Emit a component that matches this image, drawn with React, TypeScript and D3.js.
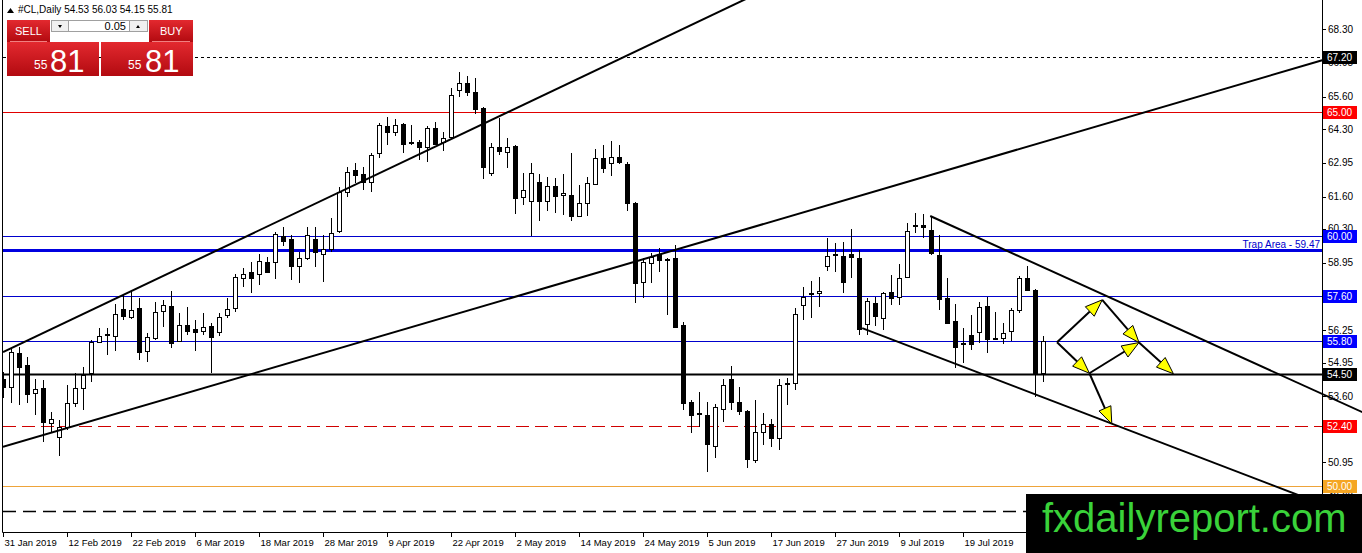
import React, { useEffect, useRef } from "react";
import * as d3 from "d3";

const W = 1362;
const H = 553;

// one label every 8 daily bars
const dateLabels = [
  "31 Jan 2019", "12 Feb 2019", "22 Feb 2019", "6 Mar 2019", "18 Mar 2019",
  "28 Mar 2019", "9 Apr 2019", "22 Apr 2019", "2 May 2019", "14 May 2019",
  "24 May 2019", "5 Jun 2019", "17 Jun 2019", "27 Jun 2019", "9 Jul 2019",
  "19 Jul 2019", "31 Jul 2019"
];

const priceTicks = [
  68.3, 66.95, 65.6, 64.3, 62.95, 61.6, 60.3, 58.95, 57.6, 56.25, 54.95,
  53.6, 52.25, 50.95, 49.6
];

const opens = [
  54.29, 53.97, 55.33, 54.85, 53.73, 53.93, 52.53, 51.97, 52.37, 53.33,
  53.93, 54.53, 55.77, 56.05, 56.01, 57.09, 56.77, 57.13, 55.41, 55.93,
  57.01, 57.21, 55.81, 56.45, 56.29, 56.21, 56.41, 56.17, 56.85, 57.13,
  58.34, 58.58, 58.5, 58.98, 58.98, 60.02, 59.9, 58.82, 59.14, 59.9,
  59.3, 59.5, 60.22, 61.78, 62.66, 62.5, 62.18, 63.34, 64.43, 64.19,
  64.51, 63.79, 63.79, 63.59, 64.35, 63.79, 63.99, 65.87, 66.15, 65.79,
  65.15, 62.54, 63.59, 63.39, 63.63, 61.58, 61.42, 62.18, 61.42, 62.02,
  61.66, 61.66, 60.82, 61.34, 62.1, 63.14, 62.94, 63.18, 62.9, 61.34,
  58.18, 58.94, 59.3, 59.06, 59.14, 56.45, 53.37, 52.93, 52.85, 51.61,
  53.09, 54.29, 53.37, 53.01, 51.05, 52.17, 52.49, 51.93, 54.13, 54.13,
  57.25, 57.74, 57.74, 58.82, 59.3, 59.22, 59.3, 59.14, 56.49, 57.33,
  56.73, 57.78, 57.57, 58.38, 60.46, 60.46, 60.26, 59.26, 57.54, 56.61,
  55.73, 56.05, 56.17, 57.21, 55.89, 55.93, 56.21, 57.05, 58.34, 57.86,
  54.53
];

const highs = [
  54.57, 55.53, 55.57, 55.17, 54.29, 54.25, 52.97, 52.65, 54.05, 54.53,
  54.77, 55.85, 56.33, 56.33, 57.29, 57.66, 57.86, 57.54, 56.13, 57.37,
  57.45, 57.82, 56.93, 57.17, 56.65, 56.93, 56.53, 56.93, 57.54, 58.5,
  58.74, 58.98, 59.3, 59.18, 60.18, 60.38, 60.06, 59.38, 60.38, 60.38,
  60.06, 60.74, 61.98, 62.78, 62.94, 62.78, 63.34, 64.55, 64.79, 64.71,
  64.55, 64.47, 63.87, 64.43, 64.59, 64.19, 65.95, 66.59, 66.43, 66.35,
  65.19, 63.75, 64.75, 63.95, 63.67, 62.54, 62.94, 62.5, 62.38, 62.34,
  62.5, 63.34, 62.06, 62.38, 63.5, 63.67, 63.83, 63.67, 62.98, 61.38,
  59.14, 59.34, 59.54, 59.14, 59.66, 56.57, 53.45, 53.77, 53.37, 53.29,
  54.29, 54.81, 53.97, 53.05, 53.45, 52.93, 52.69, 54.29, 54.33, 57.13,
  57.97, 58.22, 58.38, 59.94, 59.74, 59.78, 60.3, 59.46, 57.53, 57.57,
  57.78, 58.46, 58.9, 60.54, 60.94, 60.9, 60.82, 60.06, 58.34, 57.29,
  56.33, 56.85, 57.37, 57.57, 56.97, 56.53, 57.13, 58.42, 58.82, 57.9,
  56.03
];

const lows = [
  53.53, 53.33, 53.25, 53.33, 52.85, 51.77, 52.13, 51.21, 52.25, 53.17,
  53.05, 54.17, 55.73, 55.25, 55.41, 56.65, 56.69, 55.05, 54.97, 55.85,
  56.37, 55.53, 55.77, 56.05, 55.41, 56.05, 54.53, 56.01, 56.73, 56.97,
  57.98, 57.74, 58.06, 58.54, 58.3, 59.62, 58.26, 58.14, 59.06, 58.78,
  58.18, 59.38, 60.14, 61.58, 62.14, 61.86, 61.78, 63.14, 63.67, 64.03,
  63.34, 63.67, 63.06, 62.98, 63.67, 63.43, 63.95, 65.59, 65.63, 64.91,
  62.3, 62.42, 63.26, 62.74, 60.9, 61.26, 60.02, 60.62, 61.02, 60.94,
  60.86, 60.62, 60.78, 60.82, 62.06, 62.54, 62.42, 62.9, 61.02, 57.33,
  57.53, 58.14, 58.58, 56.85, 56.33, 53.05, 52.13, 52.37, 50.57, 51.13,
  52.57, 53.05, 52.85, 50.73, 50.93, 51.65, 51.57, 51.45, 53.25, 53.85,
  56.65, 56.73, 57.17, 58.62, 58.58, 57.74, 58.34, 56.05, 56.05, 56.41,
  56.25, 57.25, 57.25, 58.38, 60.14, 59.94, 59.26, 57.05, 56.49, 54.73,
  54.93, 55.45, 55.73, 55.33, 55.89, 55.69, 55.81, 56.93, 57.82, 53.57,
  54.15
];

const closes = [
  53.97, 55.37, 54.77, 53.69, 53.89, 52.57, 52.69, 52.37, 53.33, 53.93,
  54.45, 55.77, 56.01, 56.09, 56.89, 56.81, 57.05, 55.37, 55.97, 56.97,
  57.25, 55.73, 56.45, 56.21, 56.17, 56.37, 55.97, 56.77, 57.09, 58.38,
  58.5, 58.34, 59.02, 58.58, 60.1, 59.82, 58.82, 59.14, 60.06, 59.38,
  59.5, 60.14, 61.78, 62.58, 62.46, 62.18, 63.26, 64.47, 64.19, 64.47,
  63.71, 63.75, 63.59, 64.35, 63.71, 63.95, 65.67, 66.15, 65.79, 65.11,
  62.78, 63.59, 63.43, 63.59, 61.54, 61.86, 62.54, 61.42, 62.02, 61.62,
  61.74, 60.82, 61.34, 62.14, 63.14, 62.74, 63.18, 62.98, 61.34, 58.14,
  58.98, 59.18, 59.06, 59.1, 56.37, 53.33, 52.85, 52.89, 51.69, 53.17,
  54.05, 53.37, 53.01, 51.09, 52.17, 52.49, 51.93, 54.05, 54.09, 56.89,
  57.57, 57.7, 57.82, 59.22, 59.26, 58.18, 59.18, 56.29, 57.41, 56.81,
  57.74, 57.53, 58.34, 60.22, 60.42, 60.38, 59.34, 57.49, 56.53, 55.57,
  55.69, 55.69, 57.17, 55.89, 55.93, 56.13, 57.05, 58.34, 57.86, 54.49,
  55.81
];

// horizontal levels drawn on the chart
const levelPrices = [67.2, 65.0, 60.0, 59.47, 57.6, 55.8, 54.5, 52.4, 50.0, 49.0];
const levelColors = ["#000", "#e00000", "#0000cc", "#0000e0", "#0000cc", "#0000cc", "#000", "#d00000", "#eea43a", "#000"];
const levelWidths = [1, 1, 1, 3, 1, 1, 2, 1, 1, 1.5];
const levelDash = ["3,3", "", "", "", "", "", "", "13,6", "", "13,7"];
const levelTagBg = ["#000", "#ff0000", "#0000ff", "", "#0000ff", "#0000ff", "#000", "#ff0000", "#f5a623", "#000"];

// trend lines as [bar index, price] pairs
const trendLines: [number, number][][] = [
  [[0, 55.37], [95, 69.84]],
  [[0, 51.57], [165, 67.07]],
  [[115.9, 60.82], [170, 52.95]],
  [[107.4, 56.33], [165, 49.26]]
];

// scenario arrows
const ptA: [number, number] = [131.75, 55.76];
const ptB: [number, number] = [137.4, 57.46];
const ptC: [number, number] = [142.0, 55.75];
const ptD: [number, number] = [146.3, 54.5];
const ptE: [number, number] = [135.8, 54.52];
const ptF: [number, number] = [138.6, 52.49];
const arrows: [number, number][][] = [
  [ptA, ptB], [ptB, ptC], [ptC, ptD], [ptA, ptE], [ptE, ptC], [ptE, ptF]
];

const last = closes.length - 1;

export default function App() {
  const svgRef = useRef<SVGSVGElement | null>(null);

  useEffect(() => {
    const svg = d3.select(svgRef.current);
    svg.selectAll("*").remove();

    const font = "'Liberation Sans', Arial, sans-serif";
    const plotRight = 1322;
    const plotBottom = 532;

    const x = d3.scaleLinear().domain([0, 130]).range([3, 1043]);
    const y = d3.scaleLinear().domain([68.3, 49.6]).range([29.3, 496.05]);
    const py = (p: number) => Math.round(y(p)) + 0.5;

    svg.append("rect").attr("width", W).attr("height", H).attr("fill", "#fff");

    const defs = svg.append("defs");
    defs.append("clipPath").attr("id", "plot")
      .append("rect").attr("x", 3).attr("y", 0).attr("width", plotRight - 3).attr("height", plotBottom);
    defs.append("clipPath").attr("id", "wide")
      .append("rect").attr("x", 3).attr("y", 0).attr("width", W - 3).attr("height", plotBottom);
    const grad = defs.append("linearGradient").attr("id", "redgrad")
      .attr("x1", 0).attr("y1", 0).attr("x2", 0).attr("y2", 1);
    grad.append("stop").attr("offset", "0%").attr("stop-color", "#e3292f");
    grad.append("stop").attr("offset", "100%").attr("stop-color", "#b20a10");

    // Levels
    const lv = svg.append("g").attr("clip-path", "url(#plot)");
    levelPrices.forEach((p, i) => {
      lv.append("line")
        .attr("x1", 3).attr("x2", plotRight)
        .attr("y1", py(p)).attr("y2", py(p))
        .attr("stroke", levelColors[i])
        .attr("stroke-width", levelWidths[i])
        .attr("stroke-dasharray", levelDash[i] || null);
    });

    svg.append("text")
      .attr("x", plotRight - 2).attr("y", py(59.47) - 3)
      .attr("text-anchor", "end")
      .style("font-family", font).style("font-size", "10px")
      .attr("fill", "#0000cc")
      .text("Trap Area - 59.47");

    // Candles
    const bars = d3.range(closes.length);
    const cg = svg.append("g").attr("clip-path", "url(#plot)");
    cg.selectAll("line.wick")
      .data(bars)
      .enter()
      .append("line")
      .attr("class", "wick")
      .attr("x1", (i) => Math.round(x(i)) + 0.5)
      .attr("x2", (i) => Math.round(x(i)) + 0.5)
      .attr("y1", (i) => Math.round(y(highs[i])))
      .attr("y2", (i) => Math.round(y(lows[i])))
      .attr("stroke", "#000");

    cg.selectAll("rect.body")
      .data(bars)
      .enter()
      .append("rect")
      .attr("class", "body")
      .attr("x", (i) => Math.round(x(i)) - 1.5)
      .attr("y", (i) => Math.round(y(Math.max(opens[i], closes[i]))) + 0.5)
      .attr("width", 4)
      .attr("height", (i) =>
        Math.max(1, Math.round(y(Math.min(opens[i], closes[i]))) - Math.round(y(Math.max(opens[i], closes[i])))))
      .attr("fill", (i) => (closes[i] >= opens[i] ? "#fff" : "#000"))
      .attr("stroke", "#000");

    // Trend lines
    const tl = svg.append("g").attr("clip-path", "url(#wide)");
    trendLines.forEach((pts) => {
      tl.append("line")
        .attr("x1", x(pts[0][0])).attr("y1", y(pts[0][1]))
        .attr("x2", x(pts[1][0])).attr("y2", y(pts[1][1]))
        .attr("stroke", "#000")
        .attr("stroke-width", 2);
    });

    // Arrows
    const ag = svg.append("g");
    arrows.forEach(([a, b]) => {
      const x1 = x(a[0]), y1 = y(a[1]), x2 = x(b[0]), y2 = y(b[1]);
      const len = Math.hypot(x2 - x1, y2 - y1);
      const ux = (x2 - x1) / len, uy = (y2 - y1) / len;
      const hl = 17, hw = 6.5;
      const bx = x2 - ux * hl, by = y2 - uy * hl;
      ag.append("line")
        .attr("x1", x1).attr("y1", y1).attr("x2", bx).attr("y2", by)
        .attr("stroke", "#000").attr("stroke-width", 2);
      ag.append("path")
        .attr("d", `M${x2},${y2}L${bx - uy * hw},${by + ux * hw}L${bx + uy * hw},${by - ux * hw}Z`)
        .attr("fill", "#ffff00")
        .attr("stroke", "#000")
        .attr("stroke-width", 1);
    });

    // Frame
    svg.append("line").attr("x1", 2.5).attr("x2", 2.5).attr("y1", 0).attr("y2", plotBottom + 0.5).attr("stroke", "#000");
    svg.append("line").attr("x1", plotRight + 0.5).attr("x2", plotRight + 0.5).attr("y1", 0).attr("y2", plotBottom + 0.5).attr("stroke", "#000");
    svg.append("line").attr("x1", 2.5).attr("x2", plotRight + 0.5).attr("y1", plotBottom + 0.5).attr("y2", plotBottom + 0.5).attr("stroke", "#000");

    // Price axis
    const pa = svg.append("g");
    priceTicks.forEach((t) => {
      pa.append("line")
        .attr("x1", plotRight).attr("x2", plotRight + 4)
        .attr("y1", py(t)).attr("y2", py(t))
        .attr("stroke", "#000");
      pa.append("text")
        .attr("x", plotRight + 6).attr("y", y(t) + 3.5)
        .style("font-family", font).style("font-size", "10px")
        .attr("fill", "#000")
        .text(t.toFixed(2));
    });

    // Level tags on the price axis
    levelPrices.forEach((p, i) => {
      if (!levelTagBg[i]) return;
      pa.append("rect")
        .attr("x", plotRight + 1).attr("y", Math.round(y(p)) - 6)
        .attr("width", 34).attr("height", 13)
        .attr("fill", levelTagBg[i]);
      pa.append("text")
        .attr("x", plotRight + 5).attr("y", y(p) + 4)
        .style("font-family", font).style("font-size", "10px")
        .attr("fill", "#fff")
        .text(p.toFixed(2));
    });

    // Date axis
    const da = svg.append("g");
    dateLabels.forEach((d, i) => {
      const tx = Math.round(x(i * 8)) + 0.5;
      da.append("line")
        .attr("x1", tx).attr("x2", tx)
        .attr("y1", plotBottom).attr("y2", plotBottom + 5)
        .attr("stroke", "#000");
      da.append("text")
        .attr("x", tx + 1).attr("y", 546)
        .style("font-family", font).style("font-size", "9.5px")
        .attr("fill", "#000")
        .text(d);
    });

    // Header
    svg.append("path").attr("d", "M7,13L10.5,8L14,13Z").attr("fill", "#000");
    svg.append("text")
      .attr("x", 18).attr("y", 13)
      .style("font-family", font).style("font-size", "10px")
      .attr("fill", "#000")
      .text(`#CL,Daily  ${opens[last].toFixed(2)} ${highs[last].toFixed(2)} ${lows[last].toFixed(2)} ${closes[last].toFixed(2)}`);

    // One-click trading panel
    const tp = svg.append("g").style("font-family", font);
    tp.append("rect").attr("x", 7).attr("y", 20).attr("width", 43).attr("height", 22).attr("fill", "url(#redgrad)");
    tp.append("rect").attr("x", 149).attr("y", 20).attr("width", 44).attr("height", 22).attr("fill", "url(#redgrad)");
    tp.append("rect").attr("x", 7).attr("y", 42).attr("width", 92).attr("height", 34).attr("fill", "url(#redgrad)");
    tp.append("rect").attr("x", 101).attr("y", 42).attr("width", 92).attr("height", 34).attr("fill", "url(#redgrad)");
    tp.append("line").attr("x1", 10).attr("x2", 47).attr("y1", 41.5).attr("y2", 41.5).attr("stroke", "#f08080");
    tp.append("line").attr("x1", 152).attr("x2", 190).attr("y1", 41.5).attr("y2", 41.5).attr("stroke", "#f08080");
    tp.append("rect").attr("x", 51.5).attr("y", 20.5).attr("width", 17).attr("height", 11).attr("fill", "#f0f0f0").attr("stroke", "#a0a0a0");
    tp.append("rect").attr("x", 68.5).attr("y", 20.5).attr("width", 61).attr("height", 11).attr("fill", "#fff").attr("stroke", "#a0a0a0");
    tp.append("rect").attr("x", 129.5).attr("y", 20.5).attr("width", 18).attr("height", 11).attr("fill", "#f0f0f0").attr("stroke", "#a0a0a0");
    tp.append("path").attr("d", "M58,25L62,25L60,28Z").attr("fill", "#000");
    tp.append("path").attr("d", "M136,28L140,28L138,25Z").attr("fill", "#000");
    tp.append("text").attr("x", 126).attr("y", 30).attr("text-anchor", "end")
      .style("font-size", "11px").attr("fill", "#000").text("0.05");
    tp.append("text").attr("x", 15).attr("y", 35).style("font-size", "11px").attr("fill", "#fff").text("SELL");
    tp.append("text").attr("x", 160).attr("y", 35).style("font-size", "11px").attr("fill", "#fff").text("BUY");
    tp.append("text").attr("x", 34).attr("y", 69).style("font-size", "12px").attr("fill", "#fff").text("55");
    tp.append("text").attr("x", 50).attr("y", 72).style("font-size", "31px").attr("fill", "#fff").text("81");
    tp.append("text").attr("x", 128).attr("y", 69).style("font-size", "12px").attr("fill", "#fff").text("55");
    tp.append("text").attr("x", 145).attr("y", 72).style("font-size", "31px").attr("fill", "#fff").text("81");

    // Watermark
    svg.append("rect").attr("x", 1026).attr("y", 494).attr("width", W - 1026).attr("height", H - 494).attr("fill", "#000");
    svg.append("text")
      .attr("x", 1042).attr("y", 532)
      .style("font-family", font).style("font-size", "40px")
      .attr("fill", "#3ad23a")
      .text("fxdailyreport.com");
  }, []);

  return (
    <svg
      ref={svgRef}
      width={W}
      height={H}
      style={{ position: "absolute", left: 0, top: 0, display: "block" }}
    />
  );
}
